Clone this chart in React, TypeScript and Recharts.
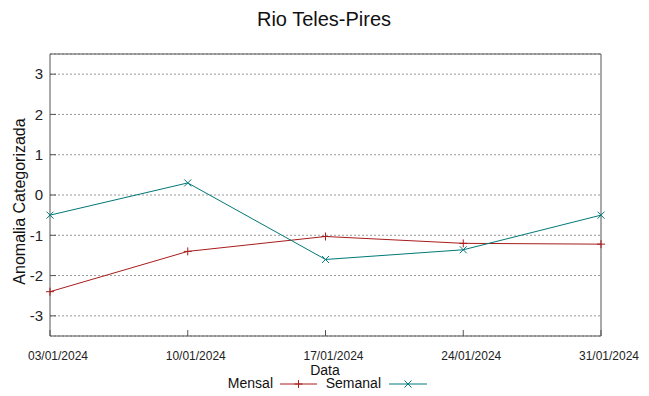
import React from 'react';
import { LineChart, Line, XAxis, YAxis, CartesianGrid } from 'recharts';

const dates = ['03/01/2024', '10/01/2024', '17/01/2024', '24/01/2024', '31/01/2024'];
const mensal = [-2.4, -1.4, -1.03, -1.2, -1.22];
const semanal = [-0.5, 0.3, -1.6, -1.36, -0.5];
const yTicks = [-3, -2, -1, 0, 1, 2, 3];
const seriesNames = ['Mensal', 'Semanal'];
const seriesColors = ['#a81c1c', '#007878'];

const FONT = '"Liberation Sans", Arial, sans-serif';
const BORDER = '#555';

const data = dates.map((d, i) => ({
  day: parseInt(d.slice(0, 2), 10),
  label: d,
  mensal: mensal[i],
  semanal: semanal[i],
}));
const xTicks = data.map(d => d.day);
const fmtDay = (v: number) => dates.find(d => parseInt(d.slice(0, 2), 10) === v) || '';

const PlusDot = (props: any) => {
  const { cx, cy } = props;
  if (cx == null || cy == null) return null;
  return <path d={`M${cx - 4},${cy}h8M${cx},${cy - 4}v8`} stroke={seriesColors[0]} strokeWidth={1} fill="none" />;
};

const CrossDot = (props: any) => {
  const { cx, cy } = props;
  if (cx == null || cy == null) return null;
  return <path d={`M${cx - 3.5},${cy - 3.5}l7,7M${cx + 3.5},${cy - 3.5}l-7,7`} stroke={seriesColors[1]} strokeWidth={1} fill="none" />;
};

// gnuplot puts the date labels a bit to the right of their tick
const DateTick = (props: any) => {
  const { x, y, payload } = props;
  return (
    <text x={x + 8} y={y + 10} textAnchor="middle" fontSize={12} fill="#222" fontFamily={FONT}>
      {fmtDay(payload.value)}
    </text>
  );
};

export default function App() {
  return (
    <div style={{ position: 'absolute', left: 0, top: 0, width: 649, height: 396, background: '#fff', fontFamily: FONT }}>
      <LineChart width={649} height={396} data={data} margin={{ top: 53, right: 47, bottom: 59, left: 49 }}>
        <CartesianGrid horizontal vertical={false} stroke="#999" strokeDasharray="2 2" yAxisId="left" xAxisId="bottom" />
        <XAxis
          xAxisId="bottom"
          dataKey="day"
          type="number"
          domain={[3, 31]}
          ticks={xTicks}
          height={1}
          tickSize={-6}
          tickMargin={20}
          stroke={BORDER}
          tick={<DateTick />}
          interval={0}
        />
        <XAxis
          xAxisId="top"
          orientation="top"
          dataKey="day"
          type="number"
          domain={[3, 31]}
          ticks={xTicks}
          height={1}
          tickSize={-6}
          tick={false}
          stroke={BORDER}
        />
        <YAxis
          yAxisId="left"
          type="number"
          domain={[-3.5, 3.5]}
          ticks={yTicks}
          width={1}
          tickSize={-6}
          tickMargin={13}
          stroke={BORDER}
          tick={{ fill: '#222', fontSize: 15, fontFamily: FONT }}
          interval={0}
        />
        <YAxis
          yAxisId="right"
          orientation="right"
          type="number"
          domain={[-3.5, 3.5]}
          ticks={yTicks}
          width={1}
          tickSize={-6}
          tick={false}
          stroke={BORDER}
        />
        <Line
          xAxisId="bottom"
          yAxisId="left"
          type="linear"
          dataKey="mensal"
          name={seriesNames[0]}
          stroke={seriesColors[0]}
          strokeWidth={1}
          dot={<PlusDot />}
          activeDot={false}
          isAnimationActive={false}
        />
        <Line
          xAxisId="bottom"
          yAxisId="left"
          type="linear"
          dataKey="semanal"
          name={seriesNames[1]}
          stroke={seriesColors[1]}
          strokeWidth={1}
          dot={<CrossDot />}
          activeDot={false}
          isAnimationActive={false}
        />
      </LineChart>
      <svg width={649} height={396} style={{ position: 'absolute', left: 0, top: 0, pointerEvents: 'none' }}>
        <text x={324} y={26} textAnchor="middle" fontSize={20} fill="#111" fontFamily={FONT}>Rio Teles-Pires</text>
        <text x={24.5} y={201.5} textAnchor="middle" fontSize={16} fill="#111" fontFamily={FONT} transform="rotate(-90, 24.5, 201.5)">Anomalia Categorizada</text>
        <text x={325} y={375} textAnchor="middle" fontSize={14} fill="#111" fontFamily={FONT}>Data</text>
        <text x={273} y={388} textAnchor="end" fontSize={14} fill="#111" fontFamily={FONT}>{seriesNames[0]}</text>
        <line x1={280} y1={384} x2={317} y2={384} stroke={seriesColors[0]} strokeWidth={1} />
        <PlusDot cx={298.5} cy={384} />
        <text x={381} y={388} textAnchor="end" fontSize={14} fill="#111" fontFamily={FONT}>{seriesNames[1]}</text>
        <line x1={389} y1={384} x2={427} y2={384} stroke={seriesColors[1]} strokeWidth={1} />
        <CrossDot cx={408} cy={384} />
      </svg>
    </div>
  );
}
